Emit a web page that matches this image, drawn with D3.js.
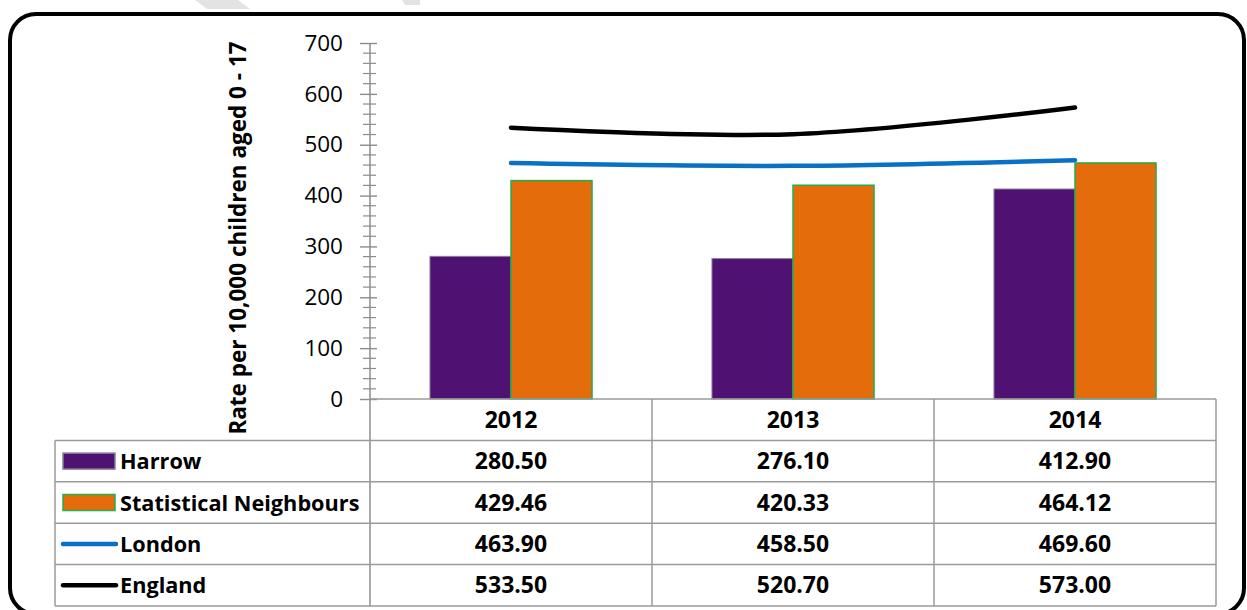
<!DOCTYPE html>
<html>
<head>
<meta charset="utf-8">
<script src="https://cdn.jsdelivr.net/npm/d3@7"></script>
<style>
  body { margin: 0; background: #fff; }
  svg { display: block; font-family: "Open Sans", "Noto Sans", sans-serif; }
</style>
</head>
<body>
<svg id="chart" width="1247" height="610"></svg>
<script>
var years = ["2012", "2013", "2014"];
var harrow = [280.50, 276.10, 412.90];
var statNeighbours = [429.46, 420.33, 464.12];
var london = [463.90, 458.50, 469.60];
var england = [533.50, 520.70, 573.00];
var yTicks = [0, 100, 200, 300, 400, 500, 600, 700];

var svg = d3.select("#chart");

// faint marks peeking in at the top
svg.append("polygon").attr("points", "195,0 238,0 250,9 207,9").attr("fill", "#e3e3e3");
svg.append("polygon").attr("points", "402,0 420,0 420,5 405,5").attr("fill", "#e3e3e3");

// outer rounded frame
svg.append("rect")
  .attr("x", 10).attr("y", 14).attr("width", 1234).attr("height", 600)
  .attr("rx", 26).attr("ry", 26)
  .attr("fill", "none").attr("stroke", "#000").attr("stroke-width", 4);

var y = d3.scaleLinear().domain([0, 700]).range([399, 43]);
var x = d3.scaleBand().domain(years).range([370, 1216]);
var inner = d3.scaleBand().domain(["harrow", "sn"]).range([0, x.bandwidth()]).paddingOuter(0.74).paddingInner(0);

// y axis with minor ticks
var minor = d3.range(0, 701, 20).filter(function(v) { return v % 100 !== 0; });
svg.append("g").selectAll("line").data(minor).enter().append("line")
  .attr("x1", 363).attr("x2", 376)
  .attr("y1", function(d) { return y(d); }).attr("y2", function(d) { return y(d); })
  .attr("stroke", "#8c8c8c").attr("stroke-width", 1.2);

var yAxis = svg.append("g").attr("transform", "translate(370,0)")
  .call(d3.axisLeft(y).tickValues(yTicks).tickSize(10).tickPadding(17));
yAxis.select(".domain").remove();
yAxis.selectAll(".tick line").attr("stroke", "#8c8c8c").attr("stroke-width", 1.4).attr("x2", 7).attr("x1", -10);
yAxis.selectAll(".tick text").attr("font-size", 22.5).attr("fill", "#000")
  .attr("font-family", "'Open Sans', sans-serif");
svg.append("line").attr("x1", 370).attr("x2", 370).attr("y1", 43).attr("y2", 606)
  .attr("stroke", "#8c8c8c").attr("stroke-width", 1.5);

// y title
svg.append("text")
  .attr("transform", "translate(246,238) rotate(-90)")
  .attr("text-anchor", "middle")
  .attr("font-size", 22.5).attr("font-weight", "bold")
  .text("Rate per 10,000 children aged 0 - 17");

// bars
var groups = svg.append("g").selectAll("g").data(years).enter().append("g")
  .attr("transform", function(d) { return "translate(" + x(d) + ",0)"; });
groups.append("rect")
  .attr("x", inner("harrow")).attr("width", inner.bandwidth())
  .attr("y", function(d, i) { return y(harrow[i]); })
  .attr("height", function(d, i) { return y(0) - y(harrow[i]); })
  .attr("fill", "#4f1272").attr("stroke", "#8a7f99").attr("stroke-width", 1);
groups.append("rect")
  .attr("x", inner("sn")).attr("width", inner.bandwidth())
  .attr("y", function(d, i) { return y(statNeighbours[i]); })
  .attr("height", function(d, i) { return y(0) - y(statNeighbours[i]); })
  .attr("fill", "#e46c0a").attr("stroke", "#1fb04f").attr("stroke-width", 1.5);

// smoothed lines
var line = d3.line()
  .x(function(d, i) { return x(years[i]) + x.bandwidth() / 2; })
  .y(function(d) { return y(d); })
  .curve(d3.curveCatmullRom.alpha(0.5));
svg.append("path").datum(london).attr("d", line)
  .attr("fill", "none").attr("stroke", "#0a70c4").attr("stroke-width", 4.5).attr("stroke-linecap", "round");
svg.append("path").datum(england).attr("d", line)
  .attr("fill", "none").attr("stroke", "#000").attr("stroke-width", 4.5).attr("stroke-linecap", "round");

// data table
var rowTop = 399, rowH = 41.4;
var tableG = svg.append("g");
var gridColor = "#9a9a9a";
tableG.append("line").attr("x1", 370).attr("x2", 1216).attr("y1", rowTop).attr("y2", rowTop)
  .attr("stroke", gridColor).attr("stroke-width", 1.5);
d3.range(1, 6).forEach(function(r) {
  tableG.append("line").attr("x1", 55).attr("x2", 1216)
    .attr("y1", rowTop + r * rowH).attr("y2", rowTop + r * rowH)
    .attr("stroke", gridColor).attr("stroke-width", 1.5);
});
tableG.append("line").attr("x1", 55).attr("x2", 55).attr("y1", rowTop + rowH).attr("y2", rowTop + 5 * rowH)
  .attr("stroke", gridColor).attr("stroke-width", 1.5);
years.forEach(function(yr) {
  tableG.append("line").attr("x1", x(yr) + x.bandwidth()).attr("x2", x(yr) + x.bandwidth())
    .attr("y1", rowTop).attr("y2", rowTop + 5 * rowH)
    .attr("stroke", gridColor).attr("stroke-width", 1.5);
});

// header
tableG.selectAll("text.yr").data(years).enter().append("text")
  .attr("x", function(d) { return x(d) + x.bandwidth() / 2; })
  .attr("y", rowTop + rowH / 2 + 8)
  .attr("text-anchor", "middle").attr("font-size", 23).attr("font-weight", "bold")
  .text(function(d) { return d; });

var rows = [
  { name: "Harrow", vals: harrow, key: "bar", fill: "#4f1272", stroke: "#8a7f99" },
  { name: "Statistical Neighbours", vals: statNeighbours, key: "bar", fill: "#e46c0a", stroke: "#1fb04f" },
  { name: "London", vals: london, key: "line", stroke: "#0a70c4" },
  { name: "England", vals: england, key: "line", stroke: "#000" }
];
rows.forEach(function(row, r) {
  var cy = rowTop + (r + 1) * rowH + rowH / 2;
  if (row.key === "bar") {
    tableG.append("rect").attr("x", 63).attr("y", cy - 8).attr("width", 52).attr("height", 16)
      .attr("fill", row.fill).attr("stroke", row.stroke).attr("stroke-width", 1.5);
  } else {
    tableG.append("line").attr("x1", 63).attr("x2", 116).attr("y1", cy).attr("y2", cy)
      .attr("stroke", row.stroke).attr("stroke-width", 4.5).attr("stroke-linecap", "round");
  }
  tableG.append("text").attr("x", 120).attr("y", cy + 8)
    .attr("font-size", 21.7).attr("font-weight", "bold").text(row.name);
  years.forEach(function(yr, i) {
    tableG.append("text").attr("x", x(yr) + x.bandwidth() / 2).attr("y", cy + 8)
      .attr("text-anchor", "middle").attr("font-size", 23).attr("font-weight", "bold")
      .text(row.vals[i].toFixed(2));
  });
});
</script>
</body>
</html>
